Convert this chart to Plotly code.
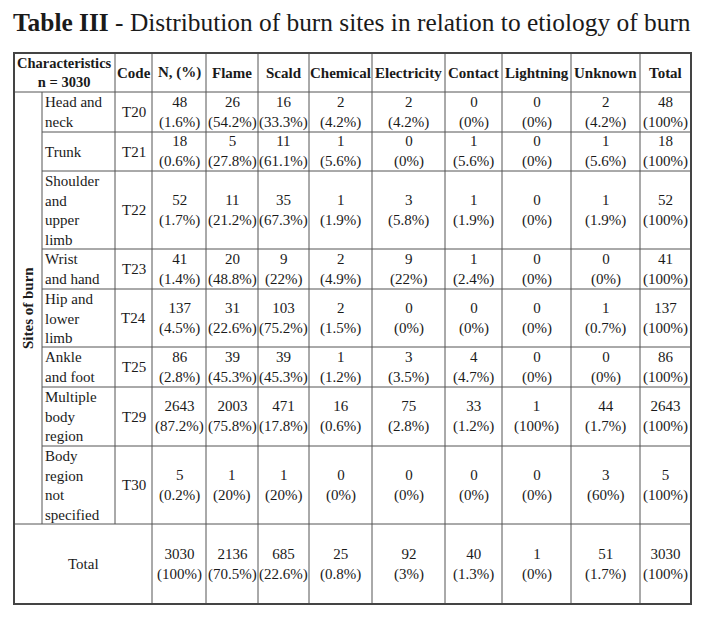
import plotly.graph_objects as go

# ---------------- data ----------------
title_bold = "Table III"
title_rest = " - Distribution of burn sites in relation to etiology of burn"

header_char = "Characteristics<br>n = 3030"
headers = ["Code", "N, (%)", "Flame", "Scald", "Chemical", "Electricity",
           "Contact", "Lightning", "Unknown", "Total"]
group_label = "Sites of burn"

sites = ["Head and<br>neck", "Trunk", "Shoulder<br>and<br>upper<br>limb",
         "Wrist<br>and hand", "Hip and<br>lower<br>limb", "Ankle<br>and foot",
         "Multiple<br>body<br>region", "Body<br>region<br>not<br>specified"]
codes = ["T20", "T21", "T22", "T23", "T24", "T25", "T29", "T30"]

n_vals = [48, 18, 52, 41, 137, 86, 2643, 5]
n_pct = ["1.6%", "0.6%", "1.7%", "1.4%", "4.5%", "2.8%", "87.2%", "0.2%"]
flame = [26, 5, 11, 20, 31, 39, 2003, 1]
flame_pct = ["54.2%", "27.8%", "21.2%", "48.8%", "22.6%", "45.3%", "75.8%", "20%"]
scald = [16, 11, 35, 9, 103, 39, 471, 1]
scald_pct = ["33.3%", "61.1%", "67.3%", "22%", "75.2%", "45.3%", "17.8%", "20%"]
chemical = [2, 1, 1, 2, 2, 1, 16, 0]
chemical_pct = ["4.2%", "5.6%", "1.9%", "4.9%", "1.5%", "1.2%", "0.6%", "0%"]
electricity = [2, 0, 3, 9, 0, 3, 75, 0]
electricity_pct = ["4.2%", "0%", "5.8%", "22%", "0%", "3.5%", "2.8%", "0%"]
contact = [0, 1, 1, 1, 0, 4, 33, 0]
contact_pct = ["0%", "5.6%", "1.9%", "2.4%", "0%", "4.7%", "1.2%", "0%"]
lightning = [0, 0, 0, 0, 0, 0, 1, 0]
lightning_pct = ["0%", "0%", "0%", "0%", "0%", "0%", "100%", "0%"]
unknown = [2, 1, 1, 0, 1, 0, 44, 3]
unknown_pct = ["4.2%", "5.6%", "1.9%", "0%", "0.7%", "0%", "1.7%", "60%"]
total = [48, 18, 52, 41, 137, 86, 2643, 5]
total_pct = ["100%", "100%", "100%", "100%", "100%", "100%", "100%", "100%"]

total_label = "Total"
total_row = [3030, 2136, 685, 25, 92, 40, 1, 51, 3030]
total_row_pct = ["100%", "70.5%", "22.6%", "0.8%", "3%", "1.3%", "0%", "1.7%", "100%"]

# ---------------- layout geometry ----------------
# the page body has an 8px margin; figure coordinates are page pixels
OFF = 8
W, H = 706 - 2 * OFF, 621 - 2 * OFF
col_edges = [14, 42, 115, 152, 206, 258, 309, 372, 445, 502, 571, 640, 691]
row_edges = [53, 92, 132, 171, 249, 289, 347, 387, 446, 524, 604]

FONT = "Liberation Serif, Times New Roman, serif"
TXT = "#1a1a1a"
LINE = "#555555"
BORDER = "#444444"
FS = 15

value_cols = [(n_vals, n_pct), (flame, flame_pct), (scald, scald_pct),
              (chemical, chemical_pct), (electricity, electricity_pct),
              (contact, contact_pct), (lightning, lightning_pct),
              (unknown, unknown_pct), (total, total_pct)]

fig = go.Figure()
shapes = []
ann = []


def hline(y, x0, x1, color=LINE, w=1):
    shapes.append(dict(type="line", xref="x", yref="y", x0=x0, x1=x1, y0=y, y1=y,
                       line=dict(color=color, width=w)))


def vline(x, y0, y1, color=LINE, w=1):
    shapes.append(dict(type="line", xref="x", yref="y", x0=x, x1=x, y0=y0, y1=y1,
                       line=dict(color=color, width=w)))


def text(x, y, s, bold=False, xanchor="center", align="center", size=FS, angle=0):
    ann.append(dict(x=x, y=y, xref="x", yref="y", text=(f"<b>{s}</b>" if bold else s),
                    showarrow=False, xanchor=xanchor, yanchor="middle", align=align,
                    textangle=angle, font=dict(family=FONT, size=size, color=TXT)))


top, bot = row_edges[0], row_edges[-1]
left, right = col_edges[0], col_edges[-1]
body_top, body_bot = row_edges[1], row_edges[-2]

# horizontal lines
hline(row_edges[1], left, right)
for y in row_edges[2:-2]:
    hline(y, col_edges[1], right)
hline(row_edges[-2], left, right)

# vertical lines
vline(col_edges[1], body_top, body_bot)
vline(col_edges[2], top, body_bot)
for x in col_edges[3:-1]:
    vline(x, top, bot)

# outer border
shapes.append(dict(type="rect", xref="x", yref="y", x0=left, x1=right, y0=top, y1=bot,
                   line=dict(color=BORDER, width=2)))


def cx(i):
    return (col_edges[i] + col_edges[i + 1]) / 2


def cy(j):
    return (row_edges[j] + row_edges[j + 1]) / 2


# title
ann.append(dict(x=left - 3, y=22, xref="x", yref="y",
                text=f"<b>{title_bold}</b>{title_rest}", showarrow=False,
                xanchor="left", yanchor="middle",
                font=dict(family=FONT, size=25.4, color=TXT)))

# header
text((col_edges[0] + col_edges[2]) / 2, cy(0), header_char, bold=True, size=14.5)
for k, h in enumerate(headers):
    text(cx(k + 2), cy(0), h, bold=True)

# group label
text(cx(0), (body_top + body_bot) / 2, group_label, bold=True, angle=-90)

# body rows
for r in range(len(sites)):
    j = r + 1
    text(col_edges[1] + 1, cy(j), sites[r], xanchor="left", align="left")
    text(cx(2), cy(j), codes[r])
    for k, (vals, pcts) in enumerate(value_cols):
        text(cx(k + 3), cy(j), f"{vals[r]}<br>({pcts[r]})")

# total row
jt = len(row_edges) - 2
text((col_edges[0] + col_edges[3]) / 2, cy(jt), total_label)
for k in range(len(total_row)):
    text(cx(k + 3), cy(jt), f"{total_row[k]}<br>({total_row_pct[k]})")

fig.update_layout(
    width=W, height=H, margin=dict(l=0, r=0, t=0, b=0),
    paper_bgcolor="white", plot_bgcolor="white",
    xaxis=dict(range=[OFF, OFF + W], visible=False, fixedrange=True),
    yaxis=dict(range=[OFF + H, OFF], visible=False, fixedrange=True),
    shapes=shapes, annotations=ann, showlegend=False,
)

fig.write_html("out.html")
